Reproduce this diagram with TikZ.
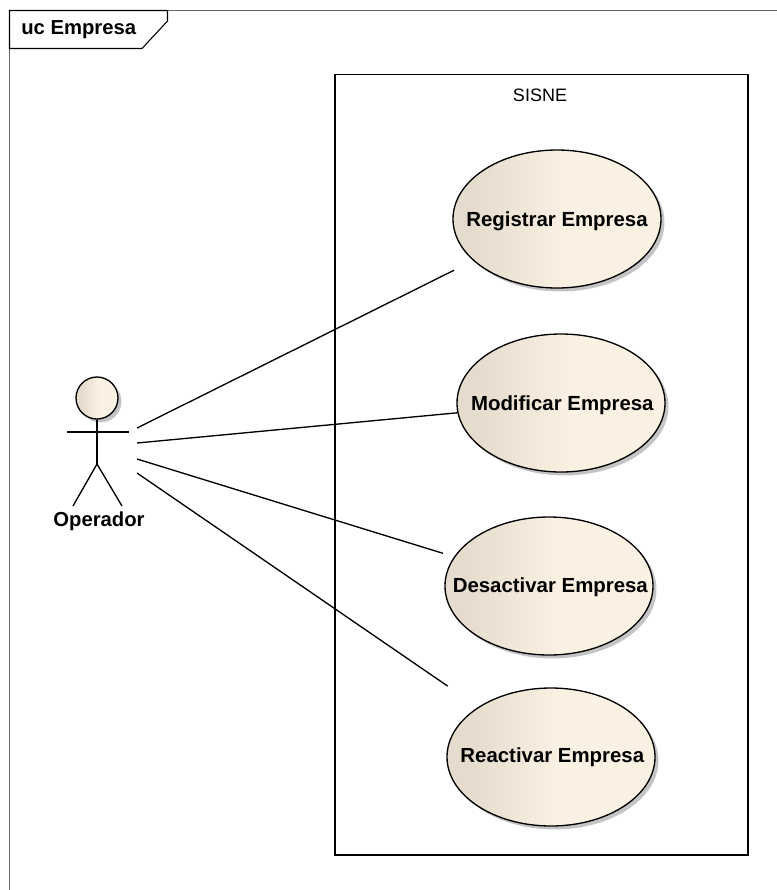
\documentclass[tikz,border=0pt]{standalone}
\usepackage{fontspec}
\setmainfont{Liberation Sans}
\usetikzlibrary{shapes.geometric, shadows}
\definecolor{casoA}{HTML}{E6DCCE}
\definecolor{casoB}{HTML}{FAF1E3}
\definecolor{sombra}{HTML}{C4C4C4}
\pgfdeclarehorizontalshading{casoshade}{100bp}{color(0bp)=(casoA); color(30bp)=(casoA); color(52bp)=(casoB); color(100bp)=(casoB)}
\newcommand{\caso}[3]{\makebox[0pt]{\hspace*{#1}\smash{\raisebox{#2}{#3}}}}
\tikzstyle{casouso} = [draw=black, line width=1pt, ellipse, shading=casoshade, minimum width=156pt, minimum height=103.5pt, inner sep=0pt, font=\fontsize{15.3}{16}\bfseries, drop shadow={shadow xshift=2.6pt, shadow yshift=-2.6pt, fill=sombra, opacity=1}]
\tikzstyle{cabeza} = [draw=black, line width=1pt, circle, shading=casoshade, minimum size=31.5pt, inner sep=0pt, drop shadow={shadow xshift=2.6pt, shadow yshift=-2.6pt, fill=sombra, opacity=1}]
\tikzstyle{asociacion} = [draw=black, line width=1pt]
\tikzstyle{titulo} = [font=\fontsize{15.2}{16}\bfseries, inner sep=0pt]

\begin{document}
\begin{tikzpicture}[x=0.75pt, y=-0.75pt]
	\useasboundingbox (0,0) rectangle (777,890);
	% marco
	\draw[gray!80!black, line width=1pt] (9.5,890) -- (9.5,10.5) -- (777,10.5);
	\draw[black, line width=0.8pt] (9.5,10.5) -- (167.5,10.5) -- (167.5,21) -- (142,48.5) -- (9.5,48.5) -- cycle;
	\node[titulo, anchor=west] (marco) at (21,30) {uc Empresa};
	% sistema
	\draw[black, line width=1pt] (335,74.5) rectangle (748,855);
	\node[font=\fontsize{13.5}{16}\selectfont, inner sep=0pt] (sisne) at (540,95) {SISNE};
	% casos de uso
	\node[casouso] (registrar) at (557,219) {\caso{0pt}{-5.8pt}{Registrar Empresa}};
	\node[casouso] (modificar) at (561,403) {\caso{2pt}{-5.6pt}{Modificar Empresa}};
	\node[casouso] (desactivar) at (549,586) {\caso{2pt}{-4.6pt}{Desactivar Empresa}};
	\node[casouso] (reactivar) at (551,757) {\caso{2pt}{-4pt}{Reactivar Empresa}};
	% actor
	\node[cabeza] (cabeza) at (97,398) {};
	\coordinate (cadera) at (97,464);
	\draw[black, line width=1pt] (cabeza.south) -- (cadera);
	\draw[black, line width=1pt] (67,432) -- (129,432);
	\draw[black, line width=1pt] (73,506) -- (cadera) -- (122,506);
	\node[titulo] (operador) at (99,521) {Operador};
	% asociaciones
	\coordinate (p1) at (137,428);
	\coordinate (p2) at (137,443);
	\coordinate (p3) at (137,459);
	\coordinate (p4) at (137,473);
	\draw[asociacion, shorten >=16pt] (p1) -- (registrar);
	\draw[asociacion] (p2) -- (modificar);
	\draw[asociacion, shorten >=8.7pt] (p3) -- (desactivar);
	\draw[asociacion, shorten >=27.6pt] (p4) -- (reactivar);
\end{tikzpicture}
\end{document}
